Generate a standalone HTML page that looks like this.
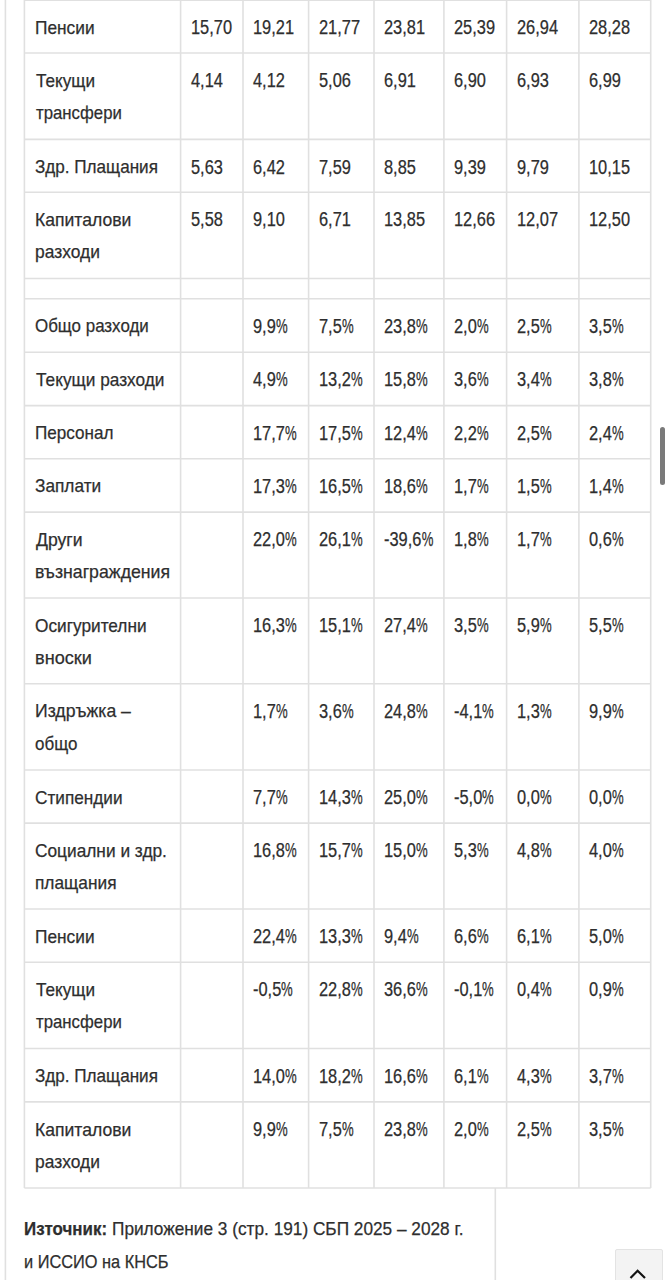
<!DOCTYPE html>
<html><head><meta charset="utf-8"><style>
html,body{margin:0;padding:0;background:#fff;}
body{width:670px;height:1280px;position:relative;overflow:hidden;font-family:"Liberation Sans",sans-serif;color:#2e2e2e;}
.t{-webkit-text-stroke:0.25px #2e2e2e;}
.t{position:absolute;white-space:nowrap;font-size:19px;line-height:32.5px;transform-origin:0 0;}
.p{display:inline-block;transform:scaleX(0.8);transform-origin:0 0;}
svg{position:absolute;left:0;top:0;}
</style></head><body>

<div class="t" style="left:34.99px;top:11.67px;transform:scaleX(0.910)">Пенсии</div>
<div class="t" style="left:191px;top:11.12px;font-size:20px;transform:scaleX(0.82)">15,70</div>
<div class="t" style="left:253.4px;top:11.12px;font-size:20px;transform:scaleX(0.82)">19,21</div>
<div class="t" style="left:319px;top:11.12px;font-size:20px;transform:scaleX(0.82)">21,77</div>
<div class="t" style="left:384.4px;top:11.12px;font-size:20px;transform:scaleX(0.82)">23,81</div>
<div class="t" style="left:454.3px;top:11.12px;font-size:20px;transform:scaleX(0.82)">25,39</div>
<div class="t" style="left:517px;top:11.12px;font-size:20px;transform:scaleX(0.82)">26,94</div>
<div class="t" style="left:589.3px;top:11.12px;font-size:20px;transform:scaleX(0.82)">28,28</div>
<div class="t" style="left:35.9px;top:64.67px;transform:scaleX(0.903)">Текущи</div>
<div class="t" style="left:35.9px;top:97.17px;transform:scaleX(0.883)">трансфери</div>
<div class="t" style="left:191px;top:64.12px;font-size:20px;transform:scaleX(0.82)">4,14</div>
<div class="t" style="left:253.4px;top:64.12px;font-size:20px;transform:scaleX(0.82)">4,12</div>
<div class="t" style="left:319px;top:64.12px;font-size:20px;transform:scaleX(0.82)">5,06</div>
<div class="t" style="left:384.4px;top:64.12px;font-size:20px;transform:scaleX(0.82)">6,91</div>
<div class="t" style="left:454.3px;top:64.12px;font-size:20px;transform:scaleX(0.82)">6,90</div>
<div class="t" style="left:517px;top:64.12px;font-size:20px;transform:scaleX(0.82)">6,93</div>
<div class="t" style="left:589.3px;top:64.12px;font-size:20px;transform:scaleX(0.82)">6,99</div>
<div class="t" style="left:35px;top:151.07px;transform:scaleX(0.900)">Здр. Плащания</div>
<div class="t" style="left:191px;top:150.52px;font-size:20px;transform:scaleX(0.82)">5,63</div>
<div class="t" style="left:253.4px;top:150.52px;font-size:20px;transform:scaleX(0.82)">6,42</div>
<div class="t" style="left:319px;top:150.52px;font-size:20px;transform:scaleX(0.82)">7,59</div>
<div class="t" style="left:384.4px;top:150.52px;font-size:20px;transform:scaleX(0.82)">8,85</div>
<div class="t" style="left:454.3px;top:150.52px;font-size:20px;transform:scaleX(0.82)">9,39</div>
<div class="t" style="left:517px;top:150.52px;font-size:20px;transform:scaleX(0.82)">9,79</div>
<div class="t" style="left:589.3px;top:150.52px;font-size:20px;transform:scaleX(0.82)">10,15</div>
<div class="t" style="left:34.97px;top:203.92px;transform:scaleX(0.925)">Капиталови</div>
<div class="t" style="left:34.98px;top:236.42px;transform:scaleX(0.917)">разходи</div>
<div class="t" style="left:191px;top:203.37px;font-size:20px;transform:scaleX(0.82)">5,58</div>
<div class="t" style="left:253.4px;top:203.37px;font-size:20px;transform:scaleX(0.82)">9,10</div>
<div class="t" style="left:319px;top:203.37px;font-size:20px;transform:scaleX(0.82)">6,71</div>
<div class="t" style="left:384.4px;top:203.37px;font-size:20px;transform:scaleX(0.82)">13,85</div>
<div class="t" style="left:454.3px;top:203.37px;font-size:20px;transform:scaleX(0.82)">12,66</div>
<div class="t" style="left:517px;top:203.37px;font-size:20px;transform:scaleX(0.82)">12,07</div>
<div class="t" style="left:589.3px;top:203.37px;font-size:20px;transform:scaleX(0.82)">12,50</div>
<div class="t" style="left:35.01px;top:310.42px;transform:scaleX(0.891)">Общо разходи</div>
<div class="t" style="left:253.4px;top:309.87px;font-size:20px;transform:scaleX(0.82)">9,9<span class="p">%</span></div>
<div class="t" style="left:319px;top:309.87px;font-size:20px;transform:scaleX(0.82)">7,5<span class="p">%</span></div>
<div class="t" style="left:384.4px;top:309.87px;font-size:20px;transform:scaleX(0.82)">23,8<span class="p">%</span></div>
<div class="t" style="left:454.3px;top:309.87px;font-size:20px;transform:scaleX(0.82)">2,0<span class="p">%</span></div>
<div class="t" style="left:517px;top:309.87px;font-size:20px;transform:scaleX(0.82)">2,5<span class="p">%</span></div>
<div class="t" style="left:589.3px;top:309.87px;font-size:20px;transform:scaleX(0.82)">3,5<span class="p">%</span></div>
<div class="t" style="left:35.9px;top:363.92px;transform:scaleX(0.908)">Текущи разходи</div>
<div class="t" style="left:253.4px;top:363.37px;font-size:20px;transform:scaleX(0.82)">4,9<span class="p">%</span></div>
<div class="t" style="left:319px;top:363.37px;font-size:20px;transform:scaleX(0.82)">13,2<span class="p">%</span></div>
<div class="t" style="left:384.4px;top:363.37px;font-size:20px;transform:scaleX(0.82)">15,8<span class="p">%</span></div>
<div class="t" style="left:454.3px;top:363.37px;font-size:20px;transform:scaleX(0.82)">3,6<span class="p">%</span></div>
<div class="t" style="left:517px;top:363.37px;font-size:20px;transform:scaleX(0.82)">3,4<span class="p">%</span></div>
<div class="t" style="left:589.3px;top:363.37px;font-size:20px;transform:scaleX(0.82)">3,8<span class="p">%</span></div>
<div class="t" style="left:35px;top:417.27px;transform:scaleX(0.900)">Персонал</div>
<div class="t" style="left:253.4px;top:416.72px;font-size:20px;transform:scaleX(0.82)">17,7<span class="p">%</span></div>
<div class="t" style="left:319px;top:416.72px;font-size:20px;transform:scaleX(0.82)">17,5<span class="p">%</span></div>
<div class="t" style="left:384.4px;top:416.72px;font-size:20px;transform:scaleX(0.82)">12,4<span class="p">%</span></div>
<div class="t" style="left:454.3px;top:416.72px;font-size:20px;transform:scaleX(0.82)">2,2<span class="p">%</span></div>
<div class="t" style="left:517px;top:416.72px;font-size:20px;transform:scaleX(0.82)">2,5<span class="p">%</span></div>
<div class="t" style="left:589.3px;top:416.72px;font-size:20px;transform:scaleX(0.82)">2,4<span class="p">%</span></div>
<div class="t" style="left:34.99px;top:470.42px;transform:scaleX(0.908)">Заплати</div>
<div class="t" style="left:253.4px;top:469.87px;font-size:20px;transform:scaleX(0.82)">17,3<span class="p">%</span></div>
<div class="t" style="left:319px;top:469.87px;font-size:20px;transform:scaleX(0.82)">16,5<span class="p">%</span></div>
<div class="t" style="left:384.4px;top:469.87px;font-size:20px;transform:scaleX(0.82)">18,6<span class="p">%</span></div>
<div class="t" style="left:454.3px;top:469.87px;font-size:20px;transform:scaleX(0.82)">1,7<span class="p">%</span></div>
<div class="t" style="left:517px;top:469.87px;font-size:20px;transform:scaleX(0.82)">1,5<span class="p">%</span></div>
<div class="t" style="left:589.3px;top:469.87px;font-size:20px;transform:scaleX(0.82)">1,4<span class="p">%</span></div>
<div class="t" style="left:35.9px;top:523.77px;transform:scaleX(0.927)">Други</div>
<div class="t" style="left:34.97px;top:556.27px;transform:scaleX(0.932)">възнаграждения</div>
<div class="t" style="left:253.4px;top:523.22px;font-size:20px;transform:scaleX(0.82)">22,0<span class="p">%</span></div>
<div class="t" style="left:319px;top:523.22px;font-size:20px;transform:scaleX(0.82)">26,1<span class="p">%</span></div>
<div class="t" style="left:383.9px;top:523.22px;font-size:20px;transform:scaleX(0.82)">-39,6<span class="p">%</span></div>
<div class="t" style="left:454.3px;top:523.22px;font-size:20px;transform:scaleX(0.82)">1,8<span class="p">%</span></div>
<div class="t" style="left:517px;top:523.22px;font-size:20px;transform:scaleX(0.82)">1,7<span class="p">%</span></div>
<div class="t" style="left:589.3px;top:523.22px;font-size:20px;transform:scaleX(0.82)">0,6<span class="p">%</span></div>
<div class="t" style="left:34.99px;top:609.67px;transform:scaleX(0.908)">Осигурителни</div>
<div class="t" style="left:34.94px;top:642.17px;transform:scaleX(0.955)">вноски</div>
<div class="t" style="left:253.4px;top:609.12px;font-size:20px;transform:scaleX(0.82)">16,3<span class="p">%</span></div>
<div class="t" style="left:319px;top:609.12px;font-size:20px;transform:scaleX(0.82)">15,1<span class="p">%</span></div>
<div class="t" style="left:384.4px;top:609.12px;font-size:20px;transform:scaleX(0.82)">27,4<span class="p">%</span></div>
<div class="t" style="left:454.3px;top:609.12px;font-size:20px;transform:scaleX(0.82)">3,5<span class="p">%</span></div>
<div class="t" style="left:517px;top:609.12px;font-size:20px;transform:scaleX(0.82)">5,9<span class="p">%</span></div>
<div class="t" style="left:589.3px;top:609.12px;font-size:20px;transform:scaleX(0.82)">5,5<span class="p">%</span></div>
<div class="t" style="left:34.97px;top:695.42px;transform:scaleX(0.928)">Издръжка –</div>
<div class="t" style="left:35.01px;top:727.92px;transform:scaleX(0.893)">общо</div>
<div class="t" style="left:253.4px;top:694.87px;font-size:20px;transform:scaleX(0.82)">1,7<span class="p">%</span></div>
<div class="t" style="left:319px;top:694.87px;font-size:20px;transform:scaleX(0.82)">3,6<span class="p">%</span></div>
<div class="t" style="left:384.4px;top:694.87px;font-size:20px;transform:scaleX(0.82)">24,8<span class="p">%</span></div>
<div class="t" style="left:453.8px;top:694.87px;font-size:20px;transform:scaleX(0.82)">-4,1<span class="p">%</span></div>
<div class="t" style="left:517px;top:694.87px;font-size:20px;transform:scaleX(0.82)">1,3<span class="p">%</span></div>
<div class="t" style="left:589.3px;top:694.87px;font-size:20px;transform:scaleX(0.82)">9,9<span class="p">%</span></div>
<div class="t" style="left:34.99px;top:781.67px;transform:scaleX(0.905)">Стипендии</div>
<div class="t" style="left:253.4px;top:781.12px;font-size:20px;transform:scaleX(0.82)">7,7<span class="p">%</span></div>
<div class="t" style="left:319px;top:781.12px;font-size:20px;transform:scaleX(0.82)">14,3<span class="p">%</span></div>
<div class="t" style="left:384.4px;top:781.12px;font-size:20px;transform:scaleX(0.82)">25,0<span class="p">%</span></div>
<div class="t" style="left:453.8px;top:781.12px;font-size:20px;transform:scaleX(0.82)">-5,0<span class="p">%</span></div>
<div class="t" style="left:517px;top:781.12px;font-size:20px;transform:scaleX(0.82)">0,0<span class="p">%</span></div>
<div class="t" style="left:589.3px;top:781.12px;font-size:20px;transform:scaleX(0.82)">0,0<span class="p">%</span></div>
<div class="t" style="left:34.99px;top:834.77px;transform:scaleX(0.910)">Социални и здр.</div>
<div class="t" style="left:34.99px;top:867.27px;transform:scaleX(0.911)">плащания</div>
<div class="t" style="left:253.4px;top:834.22px;font-size:20px;transform:scaleX(0.82)">16,8<span class="p">%</span></div>
<div class="t" style="left:319px;top:834.22px;font-size:20px;transform:scaleX(0.82)">15,7<span class="p">%</span></div>
<div class="t" style="left:384.4px;top:834.22px;font-size:20px;transform:scaleX(0.82)">15,0<span class="p">%</span></div>
<div class="t" style="left:454.3px;top:834.22px;font-size:20px;transform:scaleX(0.82)">5,3<span class="p">%</span></div>
<div class="t" style="left:517px;top:834.22px;font-size:20px;transform:scaleX(0.82)">4,8<span class="p">%</span></div>
<div class="t" style="left:589.3px;top:834.22px;font-size:20px;transform:scaleX(0.82)">4,0<span class="p">%</span></div>
<div class="t" style="left:34.99px;top:920.67px;transform:scaleX(0.910)">Пенсии</div>
<div class="t" style="left:253.4px;top:920.12px;font-size:20px;transform:scaleX(0.82)">22,4<span class="p">%</span></div>
<div class="t" style="left:319px;top:920.12px;font-size:20px;transform:scaleX(0.82)">13,3<span class="p">%</span></div>
<div class="t" style="left:384.4px;top:920.12px;font-size:20px;transform:scaleX(0.82)">9,4<span class="p">%</span></div>
<div class="t" style="left:454.3px;top:920.12px;font-size:20px;transform:scaleX(0.82)">6,6<span class="p">%</span></div>
<div class="t" style="left:517px;top:920.12px;font-size:20px;transform:scaleX(0.82)">6,1<span class="p">%</span></div>
<div class="t" style="left:589.3px;top:920.12px;font-size:20px;transform:scaleX(0.82)">5,0<span class="p">%</span></div>
<div class="t" style="left:35.9px;top:973.92px;transform:scaleX(0.903)">Текущи</div>
<div class="t" style="left:35.9px;top:1006.42px;transform:scaleX(0.883)">трансфери</div>
<div class="t" style="left:252.9px;top:973.37px;font-size:20px;transform:scaleX(0.82)">-0,5<span class="p">%</span></div>
<div class="t" style="left:319px;top:973.37px;font-size:20px;transform:scaleX(0.82)">22,8<span class="p">%</span></div>
<div class="t" style="left:384.4px;top:973.37px;font-size:20px;transform:scaleX(0.82)">36,6<span class="p">%</span></div>
<div class="t" style="left:453.8px;top:973.37px;font-size:20px;transform:scaleX(0.82)">-0,1<span class="p">%</span></div>
<div class="t" style="left:517px;top:973.37px;font-size:20px;transform:scaleX(0.82)">0,4<span class="p">%</span></div>
<div class="t" style="left:589.3px;top:973.37px;font-size:20px;transform:scaleX(0.82)">0,9<span class="p">%</span></div>
<div class="t" style="left:35px;top:1060.17px;transform:scaleX(0.900)">Здр. Плащания</div>
<div class="t" style="left:253.4px;top:1059.62px;font-size:20px;transform:scaleX(0.82)">14,0<span class="p">%</span></div>
<div class="t" style="left:319px;top:1059.62px;font-size:20px;transform:scaleX(0.82)">18,2<span class="p">%</span></div>
<div class="t" style="left:384.4px;top:1059.62px;font-size:20px;transform:scaleX(0.82)">16,6<span class="p">%</span></div>
<div class="t" style="left:454.3px;top:1059.62px;font-size:20px;transform:scaleX(0.82)">6,1<span class="p">%</span></div>
<div class="t" style="left:517px;top:1059.62px;font-size:20px;transform:scaleX(0.82)">4,3<span class="p">%</span></div>
<div class="t" style="left:589.3px;top:1059.62px;font-size:20px;transform:scaleX(0.82)">3,7<span class="p">%</span></div>
<div class="t" style="left:34.97px;top:1113.57px;transform:scaleX(0.925)">Капиталови</div>
<div class="t" style="left:34.98px;top:1146.07px;transform:scaleX(0.917)">разходи</div>
<div class="t" style="left:253.4px;top:1113.02px;font-size:20px;transform:scaleX(0.82)">9,9<span class="p">%</span></div>
<div class="t" style="left:319px;top:1113.02px;font-size:20px;transform:scaleX(0.82)">7,5<span class="p">%</span></div>
<div class="t" style="left:384.4px;top:1113.02px;font-size:20px;transform:scaleX(0.82)">23,8<span class="p">%</span></div>
<div class="t" style="left:454.3px;top:1113.02px;font-size:20px;transform:scaleX(0.82)">2,0<span class="p">%</span></div>
<div class="t" style="left:517px;top:1113.02px;font-size:20px;transform:scaleX(0.82)">2,5<span class="p">%</span></div>
<div class="t" style="left:589.3px;top:1113.02px;font-size:20px;transform:scaleX(0.82)">3,5<span class="p">%</span></div>
<div class="t" style="left:23.91px;top:1213.07px;transform:scaleX(0.890);font-weight:bold">Източник:</div>
<div class="t" style="left:111.79px;top:1213.07px;transform:scaleX(0.907)">Приложение 3 (стр. 191) СБП 2025 – 2028 г.</div>
<div class="t" style="left:23.94px;top:1246.37px;transform:scaleX(0.860)">и ИССИО на КНСБ</div>
<div style="position:absolute;left:660.3px;top:427px;width:4.7px;height:58px;border-radius:3px;background:#7a7a7a"></div>
<div style="position:absolute;left:615px;top:1249px;width:46px;height:40px;background:#f3f3f3;border:1px solid #e3e3e3;border-radius:2px"></div>
<svg width="670" height="1280" viewBox="0 0 670 1280">
<defs><filter id="bl" filterUnits="userSpaceOnUse" x="0" y="0" width="670" height="1280"><feGaussianBlur stdDeviation="0.9"/></filter></defs><g stroke="#e0e0e0" stroke-width="1.6" fill="none">
<line x1="5.4" y1="0" x2="5.4" y2="1280"/>
<line x1="24.4" y1="0" x2="24.4" y2="1188"/>
<line x1="180.6" y1="0" x2="180.6" y2="1188"/>
<line x1="243" y1="0" x2="243" y2="1188"/>
<line x1="308.6" y1="0" x2="308.6" y2="1188"/>
<line x1="374" y1="0" x2="374" y2="1188"/>
<line x1="443.9" y1="0" x2="443.9" y2="1188"/>
<line x1="506.6" y1="0" x2="506.6" y2="1188"/>
<line x1="578.9" y1="0" x2="578.9" y2="1188"/>
<line x1="650.7" y1="0" x2="650.7" y2="1188"/>
<line x1="24.4" y1="0.3" x2="650.7" y2="0.3"/>
<line x1="24.4" y1="53" x2="650.7" y2="53"/>
<line x1="24.4" y1="139.4" x2="650.7" y2="139.4"/>
<line x1="24.4" y1="192.25" x2="650.7" y2="192.25"/>
<line x1="24.4" y1="278.5" x2="650.7" y2="278.5"/>
<line x1="24.4" y1="298.75" x2="650.7" y2="298.75"/>
<line x1="24.4" y1="352.25" x2="650.7" y2="352.25"/>
<line x1="24.4" y1="405.6" x2="650.7" y2="405.6"/>
<line x1="24.4" y1="458.75" x2="650.7" y2="458.75"/>
<line x1="24.4" y1="512.1" x2="650.7" y2="512.1"/>
<line x1="24.4" y1="598" x2="650.7" y2="598"/>
<line x1="24.4" y1="683.75" x2="650.7" y2="683.75"/>
<line x1="24.4" y1="770" x2="650.7" y2="770"/>
<line x1="24.4" y1="823.1" x2="650.7" y2="823.1"/>
<line x1="24.4" y1="909" x2="650.7" y2="909"/>
<line x1="24.4" y1="962.25" x2="650.7" y2="962.25"/>
<line x1="24.4" y1="1048.5" x2="650.7" y2="1048.5"/>
<line x1="24.4" y1="1101.9" x2="650.7" y2="1101.9"/>
<line x1="24.4" y1="1188" x2="650.7" y2="1188"/>
<line x1="495.3" y1="1188" x2="495.3" y2="1280"/>
</g>
<polyline points="630.5,1278 637.6,1270.8 645,1278" fill="none" stroke="#111" stroke-width="2.2"/>
</svg>
</body></html>
